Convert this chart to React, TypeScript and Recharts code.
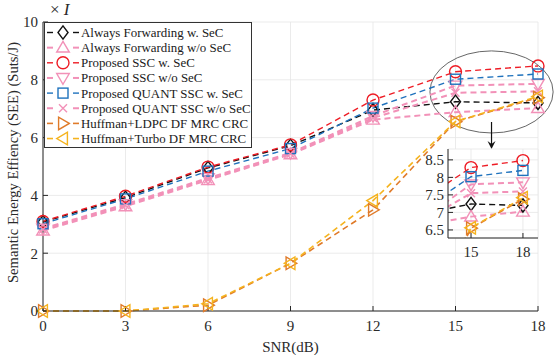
import React from 'react';
import { LineChart, Line, XAxis, YAxis, CartesianGrid, Legend, ReferenceArea, Label } from 'recharts';

const snr = [0, 3, 6, 9, 12, 15, 18];
const alwaysFwdSec = [3.08, 3.92, 4.95, 5.72, 6.95, 7.24, 7.2];
const alwaysFwdNoSec = [2.78, 3.62, 4.53, 5.42, 6.62, 6.88, 7.02];
const sscSec = [3.1, 3.97, 4.98, 5.75, 7.3, 8.28, 8.48];
const sscNoSec = [2.85, 3.7, 4.6, 5.47, 6.75, 7.8, 7.86];
const quantSec = [3.02, 3.88, 4.84, 5.62, 7.02, 8.02, 8.2];
const quantNoSec = [2.82, 3.66, 4.56, 5.44, 6.68, 7.55, 7.6];
const ldpc = [0, 0, 0.2, 1.65, 3.5, 6.55, 7.38];
const turbo = [0, 0, 0.25, 1.65, 3.82, 6.56, 7.42];

const yTicks = [0, 2, 4, 6, 8, 10];
const insetXTicks = [15, 18];
const insetYTicks = [6.5, 7, 7.5, 8, 8.5];

const FONT = '"Liberation Serif", "Times New Roman", serif';
const PINK = '#F291B8';

type Shape = 'diamond' | 'triUp' | 'circle' | 'triDown' | 'square' | 'cross' | 'triRight' | 'triLeft';

const series: { key: string; name: string; values: number[]; color: string; shape: Shape; width: number }[] = [
  { key: 'afSec', name: 'Always Forwarding w. SeC', values: alwaysFwdSec, color: '#111111', shape: 'diamond', width: 1.4 },
  { key: 'afNoSec', name: 'Always Forwarding w/o SeC', values: alwaysFwdNoSec, color: PINK, shape: 'triUp', width: 2 },
  { key: 'sscSec', name: 'Proposed SSC w. SeC', values: sscSec, color: '#EE1C25', shape: 'circle', width: 1.4 },
  { key: 'sscNoSec', name: 'Proposed SSC w/o SeC', values: sscNoSec, color: PINK, shape: 'triDown', width: 2 },
  { key: 'qSec', name: 'Proposed QUANT SSC w. SeC', values: quantSec, color: '#1F72BD', shape: 'square', width: 1.4 },
  { key: 'qNoSec', name: 'Proposed QUANT SSC w/o SeC', values: quantNoSec, color: PINK, shape: 'cross', width: 2 },
  { key: 'ldpc', name: 'Huffman+LDPC DF MRC CRC', values: ldpc, color: '#E07B2A', shape: 'triRight', width: 1.6 },
  { key: 'turbo', name: 'Huffman+Turbo DF MRC CRC', values: turbo, color: '#F5B31E', shape: 'triLeft', width: 1.6 },
];

const rows = snr.map((x, i) => {
  const row: Record<string, number> = { snr: x };
  series.forEach((s) => (row[s.key] = s.values[i]));
  return row;
});

function Marker({ shape, cx, cy, color }: { shape: Shape; cx: number; cy: number; color: string }) {
  const p = { fill: 'none', stroke: color, strokeWidth: 1.4 };
  const s = 6.3;
  switch (shape) {
    case 'diamond':
      return <path d={`M${cx},${cy - s * 1.05}L${cx + s * 0.8},${cy}L${cx},${cy + s * 1.05}L${cx - s * 0.8},${cy}Z`} {...p} />;
    case 'triUp':
      return <path d={`M${cx},${cy - s}L${cx + s},${cy + s * 0.7}L${cx - s},${cy + s * 0.7}Z`} {...p} />;
    case 'triDown':
      return <path d={`M${cx},${cy + s}L${cx + s},${cy - s * 0.7}L${cx - s},${cy - s * 0.7}Z`} {...p} />;
    case 'triRight':
      return <path d={`M${cx + s},${cy}L${cx - s * 0.7},${cy - s}L${cx - s * 0.7},${cy + s}Z`} {...p} />;
    case 'triLeft':
      return <path d={`M${cx - s},${cy}L${cx + s * 0.7},${cy - s}L${cx + s * 0.7},${cy + s}Z`} {...p} />;
    case 'circle':
      return <circle cx={cx} cy={cy} r={s * 0.95} {...p} />;
    case 'square':
      return <rect x={cx - 5} y={cy - 5} width={10} height={10} {...p} />;
    case 'cross':
      return <path d={`M${cx - 4},${cy - 4}L${cx + 4},${cy + 4}M${cx - 4},${cy + 4}L${cx + 4},${cy - 4}`} {...p} />;
  }
}

const renderDot = (shape: Shape, color: string) => (props: any) => {
  const { cx, cy, index } = props;
  if (cx == null || cy == null) return <g key={`e-${index}`} />;
  return (
    <g key={`${shape}-${index}`}>
      <Marker shape={shape} cx={cx} cy={cy} color={color} />
    </g>
  );
};

const tickStyle = { fill: '#2a2a2a', fontSize: 15, fontFamily: FONT };

function renderLegend() {
  return (
    <svg width={208} height={126} style={{ display: 'block' }}>
      <rect x={0.5} y={0.5} width={207} height={125} fill="#fff" stroke="#333" strokeWidth={1} />
      {series.map((s, i) => {
        const y = 10.5 + i * 15.15;
        return (
          <g key={s.key}>
            <line x1={3} x2={9} y1={y} y2={y} stroke={s.color} strokeWidth={s.width} />
            <line x1={29} x2={35} y1={y} y2={y} stroke={s.color} strokeWidth={s.width} />
            <Marker shape={s.shape} cx={19} cy={y} color={s.color} />
            <text x={37} y={y + 4.5} fontSize={12.9} fontFamily={FONT} fill="#1a1a1a">
              {s.name}
            </text>
          </g>
        );
      })}
    </svg>
  );
}

// ellipse around the high-SNR points plus the arrow down to the zoom box
const ZoomMark = (props: any) => {
  const { x, y, width, height } = props;
  const cx = x + width / 2;
  const bottom = y + height;
  return (
    <g>
      <ellipse cx={cx} cy={y + height / 2} rx={width / 2} ry={height / 2} fill="none" stroke="#555" strokeWidth={0.9} />
      <line x1={cx} x2={cx} y1={bottom - 11} y2={bottom + 12} stroke="#111" strokeWidth={1.2} />
      <path d={`M${cx - 4},${bottom + 8}L${cx},${bottom + 16}L${cx + 4},${bottom + 8}L${cx},${bottom + 11}Z`} fill="#111" />
    </g>
  );
};

function YTitle(props: any) {
  const { viewBox } = props;
  const x = viewBox.x + 17.5;
  const y = viewBox.y + viewBox.height / 2 - 4;
  return (
    <text x={x} y={y} transform={`rotate(-90 ${x} ${y})`} textAnchor="middle" fontSize={14.6} fontFamily={FONT} fill="#2a2a2a">
      Semantic Energy Effiency (SEE) (Suts/J)
    </text>
  );
}

function renderLines() {
  return series.map((s) => (
    <Line
      key={s.key}
      dataKey={s.key}
      name={s.name}
      stroke={s.color}
      strokeWidth={s.width}
      strokeDasharray="6 4"
      dot={renderDot(s.shape, s.color)}
      activeDot={false}
      isAnimationActive={false}
    />
  ));
}

export default function App() {
  return (
    <div style={{ position: 'absolute', left: 0, top: 0, width: 554, height: 355, background: '#fff' }}>
      <LineChart width={554} height={355} data={rows} margin={{ top: 22, right: 16, bottom: 0, left: 0 }}>
        <CartesianGrid stroke="#e6e6e6" strokeWidth={0.8} />
        <XAxis
          dataKey="snr"
          type="number"
          domain={[0, 18]}
          ticks={snr}
          interval={0}
          height={44}
          tickSize={-5}
          tickMargin={14}
          tick={tickStyle}
          stroke="#262626"
        >
          <Label value="SNR(dB)" position="insideBottom" offset={3} fontSize={15} fontFamily={FONT} fill="#2a2a2a" />
        </XAxis>
        <XAxis xAxisId="top" orientation="top" type="number" domain={[0, 18]} ticks={snr} interval={0} height={0} tickSize={-5} tick={false} stroke="#262626" />
        <YAxis type="number" domain={[0, 10]} ticks={yTicks} interval={0} width={43} tickSize={-5} tickMargin={10} tick={tickStyle} stroke="#262626">
          <Label content={YTitle} />
        </YAxis>
        <YAxis yAxisId="right" orientation="right" type="number" domain={[0, 10]} ticks={yTicks} interval={0} width={0} tickSize={-5} tick={false} stroke="#262626" />
        {renderLines()}
        <ReferenceArea x1={14.07} x2={18.55} y1={6.16} y2={9.0} ifOverflow="visible" shape={ZoomMark} />
        <Legend
          content={renderLegend}
          layout="horizontal"
          verticalAlign="middle"
          align="center"
          wrapperStyle={{ left: 44, top: 22, width: 208, height: 126 }}
        />
      </LineChart>
      <div style={{ position: 'absolute', left: 0, top: 0, fontFamily: FONT, fontSize: 17, color: '#2a2a2a' }}>
        <span style={{ position: 'absolute', left: 50, top: 0, whiteSpace: 'nowrap' }}>
          × <i>I</i>
        </span>
      </div>
      <div style={{ position: 'absolute', left: 414, top: 145 }}>
        <LineChart width={128} height={115} data={rows} margin={{ top: 4, right: 4, bottom: 0, left: 0 }}>
          <CartesianGrid stroke="#e6e6e6" strokeWidth={0.8} fill="#fff" />
          <XAxis
            dataKey="snr"
            type="number"
            domain={[13.67, 18.87]}
            allowDataOverflow
            ticks={insetXTicks}
            interval={0}
            height={22}
            tickSize={-5}
            tickMargin={13}
            tick={tickStyle}
            stroke="#262626"
          />
          <XAxis xAxisId="top" orientation="top" type="number" domain={[13.67, 18.87]} allowDataOverflow ticks={insetXTicks} interval={0} height={0} tickSize={-5} tick={false} stroke="#262626" />
          <YAxis type="number" domain={[6.27, 8.81]} allowDataOverflow ticks={insetYTicks} interval={0} width={34} tickSize={-5} tickMargin={9} tick={tickStyle} stroke="#262626" />
          <YAxis yAxisId="right" orientation="right" type="number" domain={[6.27, 8.81]} allowDataOverflow ticks={insetYTicks} interval={0} width={0} tickSize={-5} tick={false} stroke="#262626" />
          {renderLines()}
        </LineChart>
      </div>
    </div>
  );
}
